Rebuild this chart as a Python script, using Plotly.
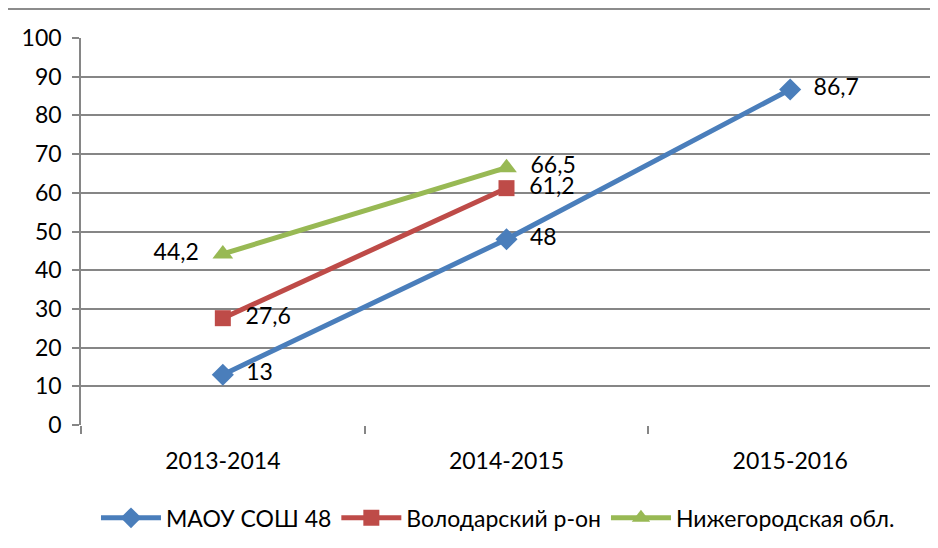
import plotly.graph_objects as go

# Data
years = ['2013-2014', '2014-2015', '2015-2016']
maou = [13, 48, 86.7]
volodarsky = [27.6, 61.2, None]
nizhny = [44.2, 66.5, None]

def fmt(v, left=False):
    if v is None:
        return ''
    s = str(v).replace('.', ',')
    return s + '  ' if left else '  ' + s

fig = go.Figure()

fig.add_trace(go.Scatter(
    x=years, y=maou, name='МАОУ СОШ 48',
    mode='lines+markers+text',
    line=dict(color='#4A7EBB', width=5),
    marker=dict(symbol='diamond', size=17, color='#4A7EBB'),
    text=[fmt(v) for v in maou],
    textposition='middle right',
    textfont=dict(size=23, color='black'),
    cliponaxis=False,
))
fig.add_trace(go.Scatter(
    x=years, y=volodarsky, name='Володарский р-он',
    mode='lines+markers+text',
    line=dict(color='#BE4B48', width=5),
    marker=dict(symbol='square', size=16, color='#BE4B48'),
    text=[fmt(v) for v in volodarsky],
    textposition='middle right',
    textfont=dict(size=23, color='black'),
    cliponaxis=False,
))
fig.add_trace(go.Scatter(
    x=years, y=nizhny, name='Нижегородская обл.',
    mode='lines+markers+text',
    line=dict(color='#98B954', width=5),
    marker=dict(symbol='triangle-up', size=18, color='#98B954'),
    text=[fmt(nizhny[0], left=True), fmt(nizhny[1]), ''],
    textposition=['middle left', 'middle right', 'middle right'],
    textfont=dict(size=23, color='black'),
    cliponaxis=False,
))

# Top border of the chart frame
fig.add_shape(type='line', xref='paper', yref='paper',
              x0=-0.1, x1=1.01, y0=1.075, y1=1.075,
              line=dict(color='#8C8C8C', width=2))

# page body has an 8px margin, so the figure is made 8px smaller
fig.update_layout(
    width=930, height=540,
    template='none',
    margin=dict(l=73, r=6, t=30, b=123, autoexpand=False),
    plot_bgcolor='white', paper_bgcolor='white',
    font=dict(family='Lato, Calibri, Arial', size=23, color='black'),
    showlegend=True,
    legend=dict(orientation='h', x=0.49, xanchor='center', y=-0.24, yanchor='middle',
                font=dict(size=23), itemwidth=60, traceorder='normal',
                bgcolor='rgba(0,0,0,0)'),
)
fig.update_xaxes(
    type='category', range=[-0.5, 2.5], automargin=False,
    showgrid=False, showline=False, zeroline=False,
    ticks='outside', tickson='boundaries', ticklen=8, tickcolor='#868686', tickwidth=1.5,
    ticklabelstandoff=20,
    tickfont=dict(size=23),
)
fig.update_yaxes(
    range=[0, 100], dtick=10, automargin=False,
    showgrid=True, gridcolor='#868686', gridwidth=1.5,
    showline=True, linecolor='#868686', linewidth=1.5,
    ticks='outside', ticklen=7, tickcolor='#868686', tickwidth=1.5,
    ticklabelstandoff=6,
    zeroline=False,
    tickfont=dict(size=23),
)

fig.write_html('out.html')
